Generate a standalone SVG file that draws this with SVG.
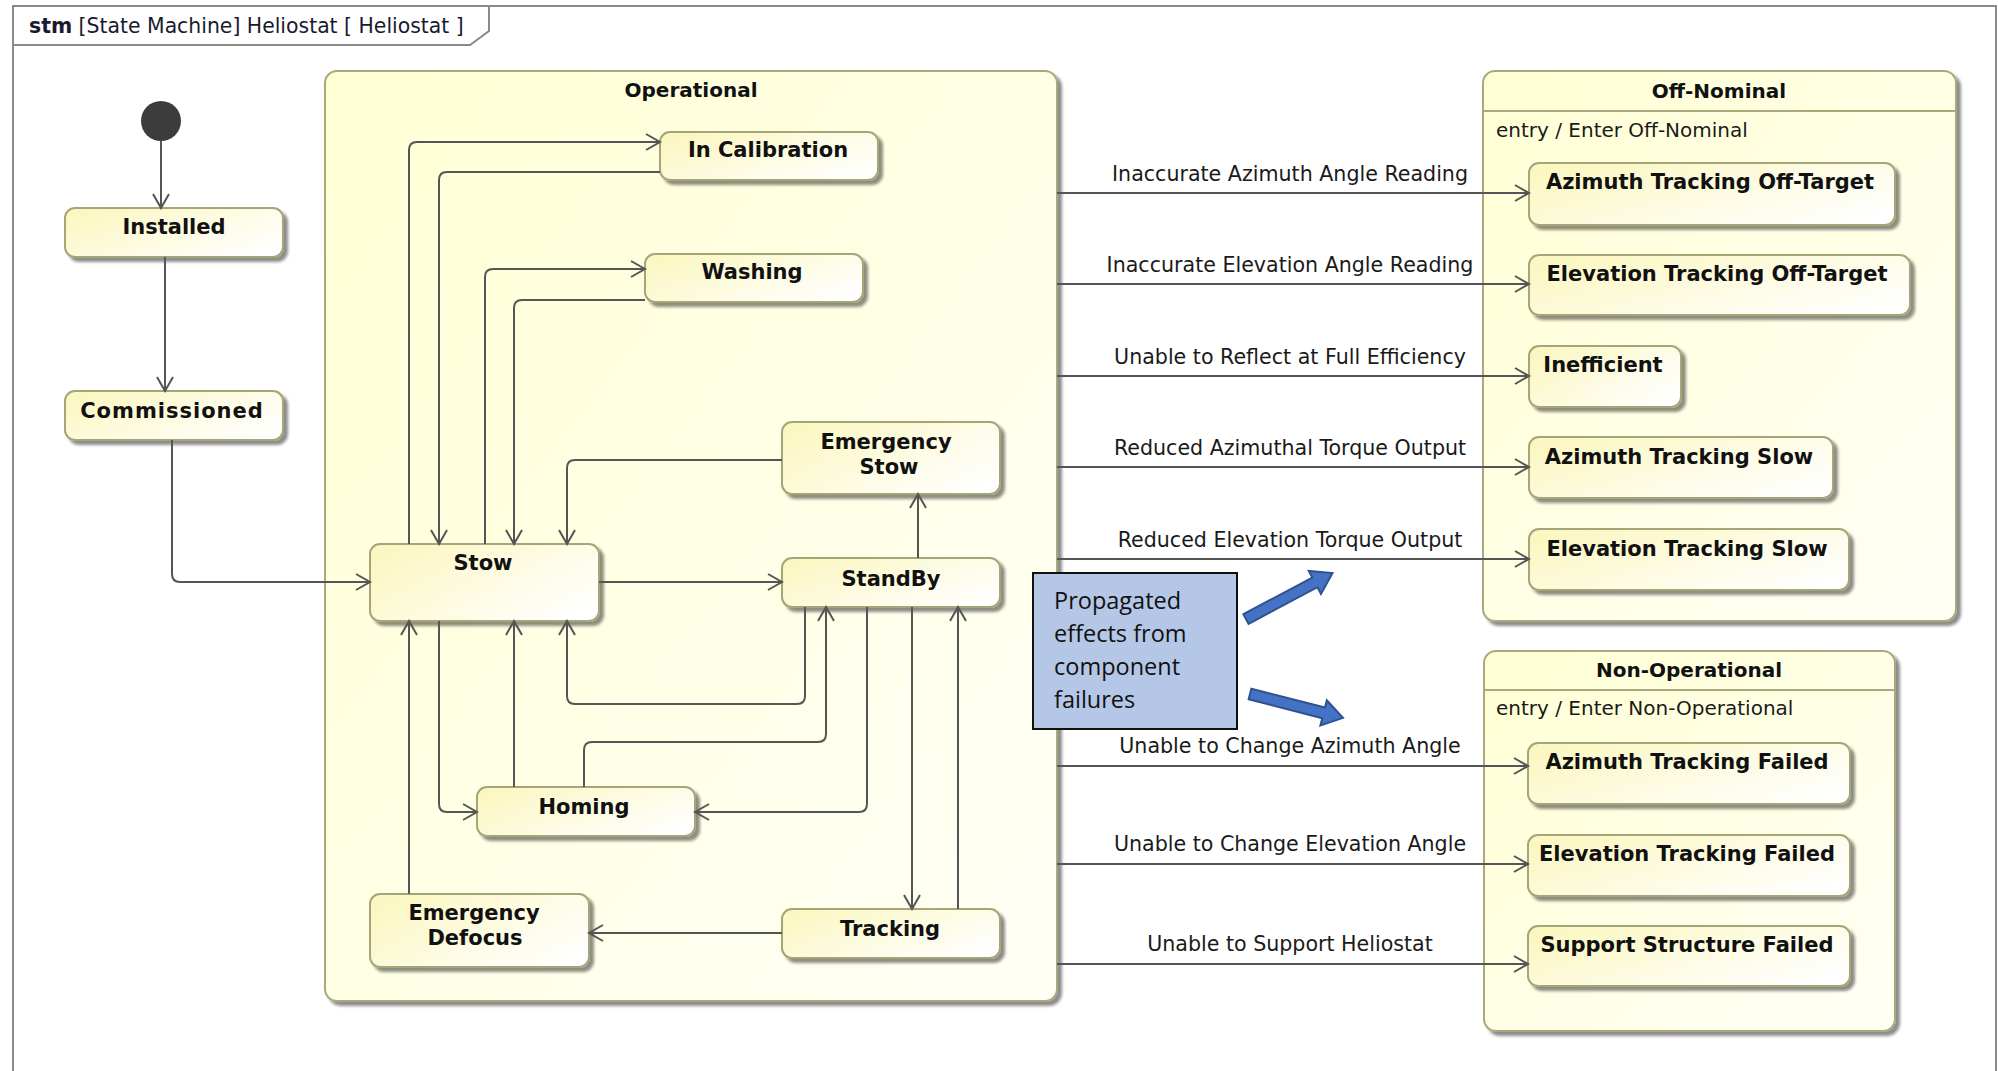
<svg xmlns="http://www.w3.org/2000/svg" width="1998" height="1071" viewBox="0 0 1998 1071">
  <defs>
    <linearGradient id="stateFill" x1="0" y1="0.2" x2="1" y2="0.8">
      <stop offset="0" stop-color="#fbf7c2"/>
      <stop offset="1" stop-color="#ffffff"/>
    </linearGradient>
    <linearGradient id="regionFill" x1="0" y1="0" x2="1" y2="1">
      <stop offset="0" stop-color="#ffffd4"/>
      <stop offset="1" stop-color="#fffff6"/>
    </linearGradient>
    <filter id="shadow" x="-10%" y="-10%" width="130%" height="140%">
      <feGaussianBlur in="SourceAlpha" stdDeviation="1.6"/>
      <feOffset dx="4" dy="4" result="off"/>
      <feComponentTransfer><feFuncA type="linear" slope="0.45"/></feComponentTransfer>
      <feMerge><feMergeNode/><feMergeNode in="SourceGraphic"/></feMerge>
    </filter>
    <marker id="open" markerUnits="userSpaceOnUse" markerWidth="18" markerHeight="20" refX="16" refY="10" orient="auto">
      <path d="M2,2 L16,10 L2,18" fill="none" stroke="#555" stroke-width="2"/>
    </marker>
    <style>
      .frame { fill: none; stroke: #8a8a8a; stroke-width: 2; }
      .region { fill: url(#regionFill); stroke: #a9a97c; stroke-width: 2; filter: url(#shadow); }
      .state { fill: url(#stateFill); stroke: #a5a578; stroke-width: 2; filter: url(#shadow); }
      .divider { stroke: #a9a97c; stroke-width: 2; }
      .name { font-family: "DejaVu Sans", sans-serif; font-size: 21px; font-weight: bold; fill: #111; text-anchor: middle; }
      .title { font-family: "DejaVu Sans", sans-serif; font-size: 20px; font-weight: bold; fill: #111; text-anchor: middle; }
      .entry { font-family: "DejaVu Sans", sans-serif; font-size: 20px; fill: #1a1a1a; }
      .label { font-family: "DejaVu Sans", sans-serif; font-size: 20.6px; fill: #1a1a1a; text-anchor: middle; }
      .header { font-family: "DejaVu Sans", sans-serif; font-size: 20.4px; fill: #1a1a2e; }
      .conn path { fill: none; stroke: #555; stroke-width: 2; marker-end: url(#open); }
      .note { fill: #b4c7e7; stroke: #111; stroke-width: 2; }
      .notetext { font-family: "Open Sans", sans-serif; font-size: 23.5px; fill: #111; }
      .block { fill: #4472c4; stroke: #2f528f; stroke-width: 2; }
    </style>
  </defs>

  <rect width="1998" height="1071" fill="#ffffff"/>

  <!-- diagram frame with name tab -->
  <g id="frame">
    <rect class="frame" x="13" y="6" width="1983" height="1090"/>
    <path class="frame" d="M13,45 H470 L489,31 V6"/>
    <text class="header" x="29" y="33"><tspan font-weight="bold">stm</tspan> [State Machine] Heliostat [ Heliostat ]</text>
  </g>

  <!-- composite states -->
  <g id="operational">
    <rect class="region" x="325" y="71" width="732" height="930" rx="12"/>
    <text class="title" x="691" y="97">Operational</text>
  </g>
  <g id="off-nominal">
    <rect class="region" x="1483" y="71" width="473" height="550" rx="12"/>
    <line class="divider" x1="1483" y1="111" x2="1956" y2="111"/>
    <text class="title" x="1719" y="98">Off-Nominal</text>
    <text class="entry" x="1496" y="137">entry / Enter Off-Nominal</text>
  </g>
  <g id="non-operational">
    <rect class="region" x="1484" y="651" width="411" height="380" rx="12"/>
    <line class="divider" x1="1484" y1="690" x2="1895" y2="690"/>
    <text class="title" x="1689" y="677">Non-Operational</text>
    <text class="entry" x="1496" y="715">entry / Enter Non-Operational</text>
  </g>

  <!-- pseudo state and top-level states -->
  <g id="initial">
    <circle cx="161" cy="121" r="20" fill="#3c3c3c"/>
  </g>
  <g id="installed">
    <rect class="state" x="65" y="208" width="218" height="49" rx="10"/>
    <text class="name" x="174" y="234">Installed</text>
  </g>
  <g id="commissioned">
    <rect class="state" x="65" y="391" width="218" height="49" rx="10"/>
    <text class="name" x="172" y="418" letter-spacing="1">Commissioned</text>
  </g>

  <!-- substates of Operational -->
  <g id="in-calibration">
    <rect class="state" x="660" y="132" width="218" height="48" rx="10"/>
    <text class="name" x="768" y="157">In Calibration</text>
  </g>
  <g id="washing">
    <rect class="state" x="645" y="254" width="218" height="48" rx="10"/>
    <text class="name" x="752" y="279">Washing</text>
  </g>
  <g id="emergency-stow">
    <rect class="state" x="782" y="422" width="218" height="72" rx="10"/>
    <text class="name" x="886" y="449">Emergency</text>
    <text class="name" x="889" y="474">Stow</text>
  </g>
  <g id="stow">
    <rect class="state" x="370" y="544" width="229" height="77" rx="10"/>
    <text class="name" x="483" y="570">Stow</text>
  </g>
  <g id="standby">
    <rect class="state" x="782" y="558" width="218" height="49" rx="10"/>
    <text class="name" x="891" y="586">StandBy</text>
  </g>
  <g id="homing">
    <rect class="state" x="477" y="787" width="218" height="49" rx="10"/>
    <text class="name" x="584" y="814">Homing</text>
  </g>
  <g id="emergency-defocus">
    <rect class="state" x="370" y="894" width="219" height="73" rx="10"/>
    <text class="name" x="474" y="920">Emergency</text>
    <text class="name" x="475" y="945">Defocus</text>
  </g>
  <g id="tracking">
    <rect class="state" x="782" y="909" width="218" height="49" rx="10"/>
    <text class="name" x="890" y="936">Tracking</text>
  </g>

  <!-- substates of Off-Nominal -->
  <g id="azimuth-off-target">
    <rect class="state" x="1529" y="163" width="366" height="62" rx="10"/>
    <text class="name" x="1710" y="189" font-size="21.6">Azimuth Tracking Off-Target</text>
  </g>
  <g id="elevation-off-target">
    <rect class="state" x="1529" y="255" width="381" height="60" rx="10"/>
    <text class="name" x="1717" y="281" font-size="21.6">Elevation Tracking Off-Target</text>
  </g>
  <g id="inefficient">
    <rect class="state" x="1529" y="346" width="152" height="61" rx="10"/>
    <text class="name" x="1603" y="372">Inefficient</text>
  </g>
  <g id="azimuth-slow">
    <rect class="state" x="1529" y="437" width="304" height="61" rx="10"/>
    <text class="name" x="1679" y="464">Azimuth Tracking Slow</text>
  </g>
  <g id="elevation-slow">
    <rect class="state" x="1529" y="529" width="320" height="61" rx="10"/>
    <text class="name" x="1687" y="556">Elevation Tracking Slow</text>
  </g>

  <!-- substates of Non-Operational -->
  <g id="azimuth-failed">
    <rect class="state" x="1528" y="743" width="322" height="61" rx="10"/>
    <text class="name" x="1687" y="769">Azimuth Tracking Failed</text>
  </g>
  <g id="elevation-failed">
    <rect class="state" x="1528" y="835" width="322" height="61" rx="10"/>
    <text class="name" x="1687" y="861">Elevation Tracking Failed</text>
  </g>
  <g id="support-failed">
    <rect class="state" x="1528" y="926" width="322" height="60" rx="10"/>
    <text class="name" x="1687" y="952">Support Structure Failed</text>
  </g>

  <!-- transitions -->
  <g id="connectors" class="conn">
    <path d="M161,141 V208"/>
    <path d="M165,257 V391"/>
    <path d="M172,440 V574 Q172,582 180,582 H370"/>
    <path d="M409,544 V150 Q409,142 417,142 H660"/>
    <path d="M660,172 H447 Q439,172 439,180 V544"/>
    <path d="M485,544 V277 Q485,269 493,269 H645"/>
    <path d="M645,300 H522 Q514,300 514,308 V544"/>
    <path d="M782,460 H575 Q567,460 567,468 V544"/>
    <path d="M918,558 V494"/>
    <path d="M599,582 H782"/>
    <path d="M409,894 V621"/>
    <path d="M439,621 V804 Q439,812 447,812 H477"/>
    <path d="M514,787 V621"/>
    <path d="M805,607 V696 Q805,704 797,704 H575 Q567,704 567,696 V621"/>
    <path d="M584,787 V750 Q584,742 592,742 H818 Q826,742 826,734 V607"/>
    <path d="M867,607 V804 Q867,812 859,812 H695"/>
    <path d="M912,607 V909"/>
    <path d="M958,909 V607"/>
    <path d="M782,933 H589"/>
    <path d="M1057,193 H1529"/>
    <path d="M1057,284 H1529"/>
    <path d="M1057,376 H1529"/>
    <path d="M1057,467 H1529"/>
    <path d="M1057,559 H1529"/>
    <path d="M1057,766 H1528"/>
    <path d="M1057,864 H1528"/>
    <path d="M1057,964 H1528"/>
  </g>

  <!-- transition triggers -->
  <g id="trigger-labels">
    <text class="label" x="1290" y="181">Inaccurate Azimuth Angle Reading</text>
    <text class="label" x="1290" y="272">Inaccurate Elevation Angle Reading</text>
    <text class="label" x="1290" y="364">Unable to Reflect at Full Efficiency</text>
    <text class="label" x="1290" y="455">Reduced Azimuthal Torque Output</text>
    <text class="label" x="1290" y="547">Reduced Elevation Torque Output</text>
    <text class="label" x="1290" y="753">Unable to Change Azimuth Angle</text>
    <text class="label" x="1290" y="851">Unable to Change Elevation Angle</text>
    <text class="label" x="1290" y="951">Unable to Support Heliostat</text>
  </g>

  <!-- annotation callout -->
  <g id="annotation">
    <rect class="note" x="1033" y="573" width="204" height="156"/>
    <text class="notetext" x="1054" y="609">Propagated</text>
    <text class="notetext" x="1054" y="642">effects from</text>
    <text class="notetext" x="1054" y="675">component</text>
    <text class="notetext" x="1054" y="708">failures</text>
    <polygon class="block" transform="translate(1246,619) rotate(-28)" points="0,-5.5 78,-5.5 78,-13 98,0 78,13 78,5.5 0,5.5"/>
    <polygon class="block" transform="translate(1250,694) rotate(14.4)" points="0,-5.5 76,-5.5 76,-13 96,0 76,13 76,5.5 0,5.5"/>
  </g>
</svg>
